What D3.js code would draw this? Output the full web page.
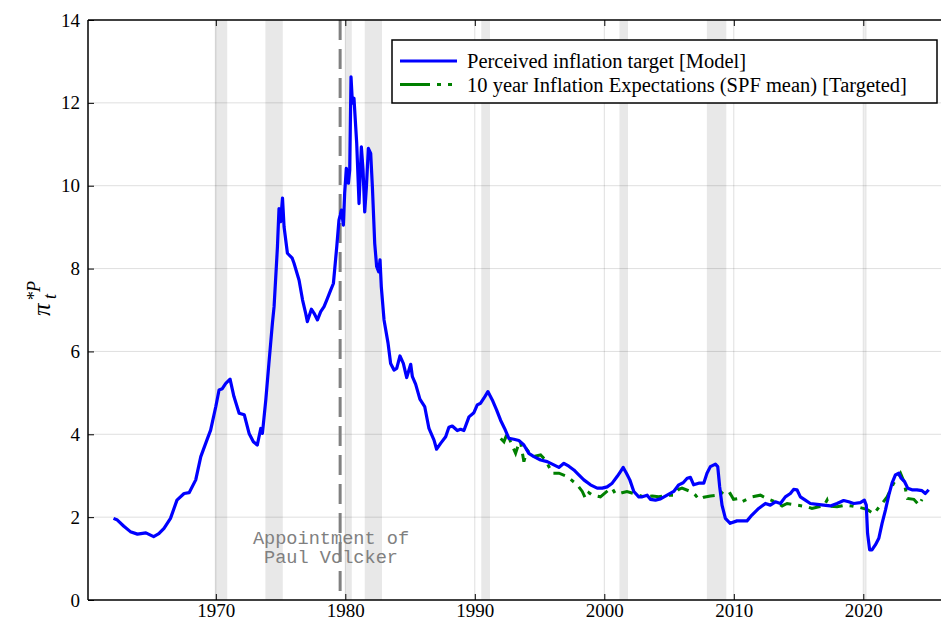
<!DOCTYPE html>
<html>
<head>
<meta charset="utf-8">
<script src="https://cdn.jsdelivr.net/npm/d3@7"></script>
<style>
  body { margin: 0; background: #fff; }
  svg { display: block; font-family: "Liberation Serif", "Times New Roman", serif; }
</style>
</head>
<body>
<div id="chart"></div>
<script>
// perceived inflation target (model)
const modelYears = [1962.1,1962.4,1962.9,1963.4,1963.95,1964.6,1965.2,1965.6,1966.0,1966.5,1967.0,1967.55,1967.94,1968.45,1968.84,1969.36,1969.6,1970.0,1970.25,1970.5,1970.77,1971.1,1971.4,1971.8,1972.2,1972.57,1972.9,1973.2,1973.47,1973.6,1973.86,1974.1,1974.37,1974.5,1974.76,1974.88,1975.0,1975.15,1975.27,1975.53,1975.9,1976.04,1976.43,1976.7,1976.94,1977.07,1977.38,1977.59,1977.85,1978.1,1978.36,1978.62,1978.87,1979.08,1979.34,1979.51,1979.7,1979.85,1979.95,1980.08,1980.24,1980.34,1980.44,1980.55,1980.67,1980.88,1981.06,1981.24,1981.37,1981.5,1981.63,1981.78,1981.96,1982.09,1982.27,1982.42,1982.58,1982.68,1982.78,1982.99,1983.3,1983.5,1983.76,1983.97,1984.22,1984.48,1984.74,1985.05,1985.18,1985.43,1985.76,1986.13,1986.46,1986.85,1987.05,1987.36,1987.75,1988.0,1988.26,1988.65,1988.9,1989.16,1989.55,1989.93,1990.19,1990.45,1990.7,1991.01,1991.35,1991.68,1991.99,1992.3,1992.63,1993.02,1993.4,1993.79,1994.17,1994.56,1995.08,1995.59,1996.1,1996.49,1996.88,1997.26,1997.65,1998.03,1998.42,1998.93,1999.45,1999.84,2000.22,2000.61,2000.99,2001.25,2001.46,2001.71,2001.97,2002.28,2002.66,2002.93,2003.31,2003.56,2003.95,2004.34,2004.85,2005.36,2005.75,2006.09,2006.4,2006.65,2006.9,2007.29,2007.68,2007.93,2008.19,2008.58,2008.76,2008.91,2009.09,2009.35,2009.72,2010.25,2011.02,2011.4,2011.92,2012.44,2012.82,2013.21,2013.6,2013.98,2014.37,2014.62,2014.88,2015.14,2015.52,2015.91,2016.43,2016.94,2017.45,2017.97,2018.48,2018.87,2019.26,2019.77,2020.08,2020.23,2020.33,2020.49,2020.67,2020.93,2021.2,2021.45,2021.71,2021.97,2022.22,2022.48,2022.74,2022.92,2023.18,2023.43,2023.76,2024.14,2024.53,2024.79,2025.05];
const modelValues = [1.97,1.93,1.78,1.65,1.59,1.62,1.53,1.60,1.73,1.97,2.41,2.57,2.59,2.90,3.46,3.90,4.10,4.67,5.07,5.10,5.23,5.33,4.91,4.51,4.47,4.02,3.82,3.74,4.14,4.02,4.83,5.71,6.68,7.08,8.53,9.45,9.13,9.70,9.01,8.37,8.25,8.13,7.72,7.24,6.92,6.72,7.02,6.92,6.76,6.96,7.08,7.28,7.48,7.64,8.53,9.17,9.41,9.05,9.82,10.42,10.06,10.38,12.63,11.99,12.11,11.02,9.57,10.94,10.38,9.37,9.98,10.90,10.78,9.98,8.61,8.05,7.92,8.21,7.56,6.76,6.20,5.71,5.55,5.59,5.89,5.71,5.37,5.69,5.39,5.21,4.85,4.67,4.14,3.86,3.64,3.78,3.94,4.17,4.20,4.09,4.12,4.09,4.42,4.52,4.71,4.75,4.87,5.03,4.83,4.59,4.34,4.14,3.90,3.88,3.85,3.74,3.54,3.46,3.38,3.34,3.26,3.20,3.30,3.23,3.14,3.02,2.90,2.78,2.70,2.70,2.73,2.82,2.98,3.10,3.20,3.06,2.90,2.62,2.49,2.49,2.53,2.43,2.41,2.44,2.53,2.62,2.78,2.83,2.94,2.96,2.78,2.82,2.82,3.06,3.22,3.28,3.22,2.73,2.29,1.97,1.85,1.91,1.91,2.05,2.21,2.33,2.29,2.37,2.33,2.49,2.57,2.67,2.66,2.49,2.41,2.33,2.31,2.29,2.27,2.33,2.40,2.37,2.33,2.35,2.41,2.29,1.61,1.21,1.21,1.33,1.49,1.85,2.17,2.53,2.82,3.02,3.06,2.94,2.86,2.70,2.66,2.66,2.64,2.57,2.66];

// 10 year SPF mean expectations
const spfYears = [1992.0,1992.25,1992.5,1992.76,1993.15,1993.4,1993.53,1993.79,1994.05,1994.44,1995.08,1995.46,1995.98,1996.5,1997.14,1997.91,1998.3,1998.55,1998.81,1999.07,1999.7,2000.35,2000.6,2000.86,2001.1,2001.37,2001.75,2002.27,2002.65,2003.05,2003.7,2004.2,2004.85,2005.36,2005.75,2006.0,2006.65,2007.04,2007.29,2007.68,2008.2,2008.72,2008.97,2009.35,2009.72,2009.98,2010.37,2010.63,2011.4,2012.05,2012.56,2013.21,2013.73,2014.12,2014.88,2015.66,2016.04,2016.56,2016.94,2017.2,2017.33,2017.97,2018.62,2019.13,2019.77,2020.28,2020.8,2021.45,2021.84,2022.35,2022.87,2023.14,2023.4,2023.9,2024.3,2024.53];
const spfValues = [3.90,3.82,4.02,3.82,3.54,3.78,3.82,3.34,3.62,3.46,3.50,3.38,3.06,3.06,2.98,2.78,2.62,2.45,2.59,2.53,2.49,2.66,2.70,2.56,2.57,2.59,2.62,2.57,2.53,2.49,2.51,2.49,2.53,2.53,2.67,2.70,2.62,2.53,2.43,2.48,2.51,2.53,2.62,2.51,2.57,2.43,2.45,2.37,2.49,2.53,2.45,2.37,2.27,2.33,2.29,2.25,2.21,2.25,2.27,2.41,2.27,2.25,2.29,2.27,2.23,2.19,2.08,2.33,2.49,2.82,3.06,2.86,2.45,2.43,2.29,2.43];

// NBER recessions
const recessionStarts = [1969.92, 1973.83, 1980.0, 1981.5, 1990.5, 2001.17, 2007.92, 2020.08];
const recessionEnds   = [1970.88, 1975.17, 1980.5, 1982.83, 1991.17, 2001.83, 2009.42, 2020.25];

const volckerYear = 1979.6;
const xTicks = [1970, 1980, 1990, 2000, 2010, 2020];
const yTicks = [0, 2, 4, 6, 8, 10, 12, 14];
const seriesNames = ["Perceived inflation target [Model]", "10 year Inflation Expectations (SPF mean) [Targeted]"];

const width = 941, height = 626;
const ml = 88, mt = 20, mb = 26;
const blue = "#0000ff", green = "#008000";
const serif = "'Liberation Serif', 'Times New Roman', serif";

const $ = d3.select("#chart").append("svg")
    .attr("width", width)
    .attr("height", height);

const X = d3.scaleLinear().domain([1960.13, 2026.85]).range([ml, 952]);
const Y = d3.scaleLinear().domain([0, 14]).range([height - mb, mt]);
const x0 = X.range()[0], x1 = X.range()[1];
const y0 = Y.range()[0], y1 = Y.range()[1];

// recession bands
$.append("g").selectAll("rect")
    .data(recessionStarts.map((s, i) => [s, recessionEnds[i]]))
    .join("rect")
    .attr("x", d => X(d[0]))
    .attr("width", d => X(d[1]) - X(d[0]))
    .attr("y", y1)
    .attr("height", y0 - y1)
    .attr("fill", "#e8e8e8");

// grid
const grid = $.append("g").attr("stroke", "#000").attr("stroke-opacity", 0.13).attr("stroke-width", 1);
grid.selectAll("line.gx").data(xTicks).join("line").attr("class", "gx")
    .attr("x1", d => X(d)).attr("x2", d => X(d)).attr("y1", y1).attr("y2", y0);
grid.selectAll("line.gy").data(yTicks.slice(1, -1)).join("line").attr("class", "gy")
    .attr("x1", x0).attr("x2", x1).attr("y1", d => Y(d)).attr("y2", d => Y(d));

// Volcker line
$.append("line")
    .attr("x1", X(volckerYear)).attr("x2", X(volckerYear))
    .attr("y1", y1).attr("y2", y0)
    .attr("stroke", "#808080")
    .attr("stroke-width", 3)
    .attr("stroke-dasharray", "20,9");

// series
const line = d3.line().x(d => X(d[0])).y(d => Y(d[1]));
$.append("path")
    .datum(spfYears.map((yr, i) => [yr, spfValues[i]]))
    .attr("d", line)
    .attr("fill", "none")
    .attr("stroke", green)
    .attr("stroke-width", 3)
    .attr("stroke-dasharray", "12,7,4,7");
$.append("path")
    .datum(modelYears.map((yr, i) => [yr, modelValues[i]]))
    .attr("d", line)
    .attr("fill", "none")
    .attr("stroke", blue)
    .attr("stroke-width", 3.2)
    .attr("stroke-linejoin", "round");

// annotation
const note = $.append("text")
    .attr("text-anchor", "middle")
    .attr("font-family", "'Liberation Mono', 'Courier New', monospace")
    .attr("font-size", 18.6)
    .attr("fill", "#808080");
note.append("tspan").attr("x", 331).attr("y", 544).text("Appointment of");
note.append("tspan").attr("x", 331).attr("y", 563).text("Paul Volcker");

// frame + axes
const frame = $.append("g").attr("stroke", "#000").attr("fill", "none");
frame.append("line").attr("x1", x0).attr("x2", x1).attr("y1", y0).attr("y2", y0).attr("stroke-width", 1.5);
frame.append("line").attr("x1", x0).attr("x2", x1).attr("y1", y1).attr("y2", y1).attr("stroke-width", 1.5);
frame.append("line").attr("x1", x0).attr("x2", x0).attr("y1", y1).attr("y2", y0).attr("stroke-width", 1.5);

const xAxis = d3.axisBottom(X).tickValues(xTicks).tickFormat(d3.format("d")).tickSizeInner(-6).tickSizeOuter(0).tickPadding(3);
$.append("g").attr("transform", `translate(0,${y0})`).call(xAxis)
    .call(g => g.select(".domain").remove())
    .call(g => g.selectAll("text").attr("font-size", 19).attr("font-family", serif).attr("fill", "#000"));
const xTop = d3.axisTop(X).tickValues(xTicks).tickFormat("").tickSizeInner(-6).tickSizeOuter(0);
$.append("g").attr("transform", `translate(0,${y1})`).call(xTop)
    .call(g => g.select(".domain").remove());

const yAxis = d3.axisLeft(Y).tickValues(yTicks).tickSizeInner(-6).tickSizeOuter(0).tickPadding(8);
$.append("g").attr("transform", `translate(${x0},0)`).call(yAxis)
    .call(g => g.select(".domain").remove())
    .call(g => g.selectAll("text").attr("font-size", 19).attr("font-family", serif).attr("fill", "#000"));

// y label: pi_t^{*P}
const yl = $.append("g").attr("transform", "translate(50,300) rotate(-90)")
    .attr("font-family", serif).attr("font-style", "italic");
yl.append("text").attr("x", -16).attr("y", 0).attr("font-size", 25).text("π");
yl.append("text").attr("x", -1).attr("y", -10).attr("font-size", 18).text("*P");
yl.append("text").attr("x", 1).attr("y", 6).attr("font-size", 18).text("t");

// legend
const lg = $.append("g");
lg.append("rect").attr("x", 392).attr("y", 40).attr("width", 545).attr("height", 63)
    .attr("fill", "#fff").attr("stroke", "#000").attr("stroke-width", 1.5);
const rows = lg.selectAll("g.row").data(seriesNames).join("g").attr("class", "row")
    .attr("transform", (d, i) => `translate(0,${61 + i * 23.5})`);
rows.append("line").attr("x1", 400).attr("x2", 457).attr("y1", 0).attr("y2", 0)
    .attr("stroke", (d, i) => i ? green : blue).attr("stroke-width", 3)
    .attr("stroke-dasharray", (d, i) => i ? "30,7,4,7,4,100" : null);
rows.append("text").attr("x", 467).attr("y", 7).attr("font-size", 20.5).attr("font-family", serif).text(d => d);
</script>
</body>
</html>
